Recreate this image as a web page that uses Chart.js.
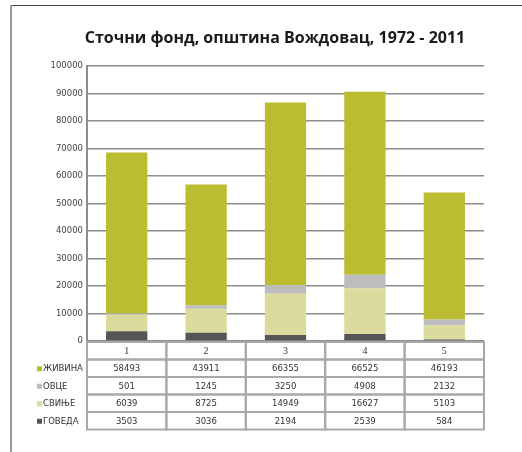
<!DOCTYPE html>
<html>
<head>
<meta charset="utf-8">
<title>Сточни фонд</title>
<script src="https://cdn.jsdelivr.net/npm/chart.js@4/dist/chart.umd.min.js"></script>
<style>
	body { margin: 0; background: #fff; }
	canvas { display: block; }
</style>
</head>
<body>
<canvas id="chartStocniFond" width="522" height="452"></canvas>
<script>
// пописне године (редни број колоне у табели)
var kategorije = ['1', '2', '3', '4', '5'];

var goveda = [3503, 3036, 2194, 2539, 584];
var svinje = [6039, 8725, 14949, 16627, 5103];
var ovce = [501, 1245, 3250, 4908, 2132];
var zivina = [58493, 43911, 66355, 66525, 46193];

var yMin = 0;
var yMax = 100000;
var yKorak = 10000;

var naslov = 'Сточни фонд, општина Вождовац, 1972 - 2011';

var tekstFont = 'DejaVu Sans';

// оквир и наслов (наслов није центриран над целим платном)
var okvirPlugin = {
	id: 'okvir',
	beforeDraw: function(chart) {
		var ctx = chart.ctx;
		ctx.save();
		ctx.fillStyle = '#fff';
		ctx.fillRect(0, 0, chart.width, chart.height);
		ctx.strokeStyle = '#444';
		ctx.lineWidth = 1;
		ctx.beginPath();
		ctx.moveTo(10, 5.5);
		ctx.lineTo(chart.width, 5.5);
		ctx.stroke();
		ctx.strokeStyle = '#9a9a9a';
		ctx.lineWidth = 2;
		ctx.beginPath();
		ctx.moveTo(11, 5);
		ctx.lineTo(11, chart.height);
		ctx.stroke();
		ctx.restore();
	},
	afterDraw: function(chart) {
		var ctx = chart.ctx;
		ctx.save();
		ctx.fillStyle = '#1a1a1a';
		ctx.font = 'bold 16px "Open Sans"';
		ctx.textAlign = 'center';
		ctx.textBaseline = 'middle';
		ctx.fillText(naslov, 275, 38);
		ctx.restore();
	}
};

// табела са подацима испод графикона (редови одозго надоле)
var tabelaPlugin = {
	id: 'tabela',
	afterDraw: function(chart) {
		var ctx = chart.ctx;
		var x = chart.scales.x;
		var area = chart.chartArea;
		var sirina = (area.right - area.left) / kategorije.length;
		var visina = 17.5;
		var vrh = area.bottom + 1;
		var redovi = chart.data.datasets.slice().reverse();

		ctx.save();
		ctx.strokeStyle = '#a8a8a8';
		ctx.lineWidth = 2;

		// заглавље са категоријама
		ctx.textAlign = 'center';
		ctx.textBaseline = 'middle';
		kategorije.forEach(function(kat, i) {
			var cx = x.getPixelForValue(i);
			ctx.strokeRect(cx - sirina / 2, vrh, sirina, visina);
			ctx.fillStyle = '#333';
			ctx.font = '10px "Liberation Serif"';
			ctx.fillText(kat, cx, vrh + visina / 2 + 1);
		});

		redovi.forEach(function(ds, r) {
			var y0 = vrh + visina * (r + 1);
			ctx.textAlign = 'center';
			ds.data.forEach(function(v, i) {
				var cx = x.getPixelForValue(i);
				ctx.strokeRect(cx - sirina / 2, y0, sirina, visina);
				ctx.fillStyle = '#333';
				ctx.font = '8.5px "' + tekstFont + '"';
				ctx.fillText(String(v), cx, y0 + visina / 2 + 1);
			});
			// легенда у првој колони
			ctx.fillStyle = ds.backgroundColor;
			ctx.fillRect(37, y0 + visina / 2 - 2, 5, 5);
			ctx.fillStyle = '#333';
			ctx.textAlign = 'left';
			ctx.font = '8.5px "' + tekstFont + '"';
			ctx.fillText(ds.label, 43, y0 + visina / 2 + 1);
		});
		ctx.restore();
	}
};

var grafikon = new Chart(document.getElementById('chartStocniFond'), {
	type: 'bar',
	data: {
		labels: kategorije,
		datasets: [
			{ label: 'ГОВЕДА', data: goveda, backgroundColor: '#555555' },
			{ label: 'СВИЊЕ', data: svinje, backgroundColor: '#dadb9c' },
			{ label: 'ОВЦЕ', data: ovce, backgroundColor: '#bdbdbd' },
			{ label: 'ЖИВИНА', data: zivina, backgroundColor: '#babd2f' }
		]
	},
	options: {
		responsive: false,
		animation: false,
		layout: {
			padding: { left: 0, right: 38, top: 66, bottom: 111 }
		},
		datasets: {
			bar: { barPercentage: 0.52, categoryPercentage: 1 }
		},
		plugins: {
			legend: { display: false },
			tooltip: { enabled: false },
			title: { display: false }
		},
		scales: {
			x: {
				stacked: true,
				display: false
			},
			y: {
				stacked: true,
				min: yMin,
				max: yMax,
				afterFit: function(scale) { scale.width = 87; },
				ticks: {
					stepSize: yKorak,
					padding: 4,
					color: '#444',
					font: { family: tekstFont, size: 8.5 },
					callback: function(v) { return v; }
				},
				grid: {
					color: '#8c8c8c',
					lineWidth: 1.5,
					drawTicks: false
				},
				border: { color: '#8c8c8c', width: 2 }
			}
		}
	},
	plugins: [okvirPlugin, tabelaPlugin]
});
</script>
</body>
</html>
